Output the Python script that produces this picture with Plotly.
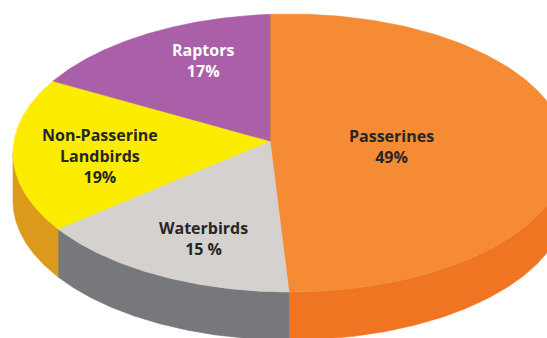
import numpy as np
import plotly.graph_objects as go

# Share of species by bird group
groups = ["Passerines", "Waterbirds", "Non-Passerine<br>Landbirds", "Raptors"]
shares = [49, 15, 19, 17]
pct_suffix = ["%", " %", "%", "%"]

top_colors = ["#F58B34", "#D5D1CE", "#FBEC00", "#A960A8"]
side_colors = ["#F07522", "#76787C", "#DC9A1C", "#8E4D8E"]
text_colors = ["#262626", "#262626", "#262626", "#FFFFFF"]
label_xy = [(391, 146), (203, 238), (100, 156), (203, 60)]

W, H = 547, 338
# tilted disc (pixel units): ellipse of the top face, hub of the slices, rim depth
CX, CY, RX, RY = 290.0, 153.0, 277.0, 139.0
AX, AY = 270.0, 141.0
DEPTH = 48.0
K = RY / RX
TWO_PI = 2 * np.pi


def rim_angle(theta):
    """Parametric ellipse angle where a ray from the hub at slice angle theta meets the rim."""
    dx, dy = np.sin(theta), -K * np.cos(theta)
    px, py = (AX - CX) / RX, (AY - CY) / RY
    ux, uy = dx / RX, dy / RY
    a = ux * ux + uy * uy
    b = 2 * (px * ux + py * uy)
    c = px * px + py * py - 1
    s = (-b + np.sqrt(b * b - 4 * a * c)) / (2 * a)
    x, y = AX + s * dx, AY + s * dy
    return np.arctan2((x - CX) / RX, -(y - CY) / RY)


def rim_xy(t):
    return CX + RX * np.sin(t), CY - RY * np.cos(t)


cum = np.cumsum(shares) / float(sum(shares))
t_start = rim_angle(0.0)
t_bounds = [t_start]
for c in cum[:-1]:
    t_bounds.append(np.mod(rim_angle(TWO_PI * c), TWO_PI))
t_bounds.append(t_start + TWO_PI)

fig = go.Figure()

# rim (front half of the disc only)
for i in range(len(shares)):
    lo = max(t_bounds[i], np.pi / 2)
    hi = min(t_bounds[i + 1], 3 * np.pi / 2)
    if hi <= lo:
        continue
    t = np.linspace(lo, hi, 120)
    x, y = rim_xy(t)
    xs = np.concatenate([x, x[::-1], x[:1]])
    ys = np.concatenate([y, y[::-1] + DEPTH, y[:1]])
    fig.add_trace(go.Scatter(x=xs, y=ys, mode="lines", fill="toself",
                             fillcolor=side_colors[i],
                             line=dict(color=side_colors[i], width=0.6),
                             hoverinfo="skip"))

# top face of each slice
for i in range(len(shares)):
    t = np.linspace(t_bounds[i], t_bounds[i + 1], 160)
    x, y = rim_xy(t)
    xs = np.concatenate([[AX], x, [AX]])
    ys = np.concatenate([[AY], y, [AY]])
    fig.add_trace(go.Scatter(x=xs, y=ys, mode="lines", fill="toself",
                             fillcolor=top_colors[i],
                             line=dict(color=top_colors[i], width=0.6),
                             hoverinfo="skip"))

for name, v, suf, col, (lx, ly) in zip(groups, shares, pct_suffix, text_colors, label_xy):
    fig.add_annotation(x=lx, y=ly, text=f"<b>{name}<br>{v}{suf}</b>",
                       showarrow=False, xanchor="center", yanchor="middle",
                       font=dict(family="Open Sans", size=16, color=col))

fig.update_layout(
    width=W, height=H,
    margin=dict(l=0, r=0, t=0, b=0),
    paper_bgcolor="white", plot_bgcolor="white",
    showlegend=False,
    xaxis=dict(range=[0, W], visible=False, fixedrange=True),
    yaxis=dict(range=[H, 0], visible=False, fixedrange=True),
)

fig.write_html("out.html")
